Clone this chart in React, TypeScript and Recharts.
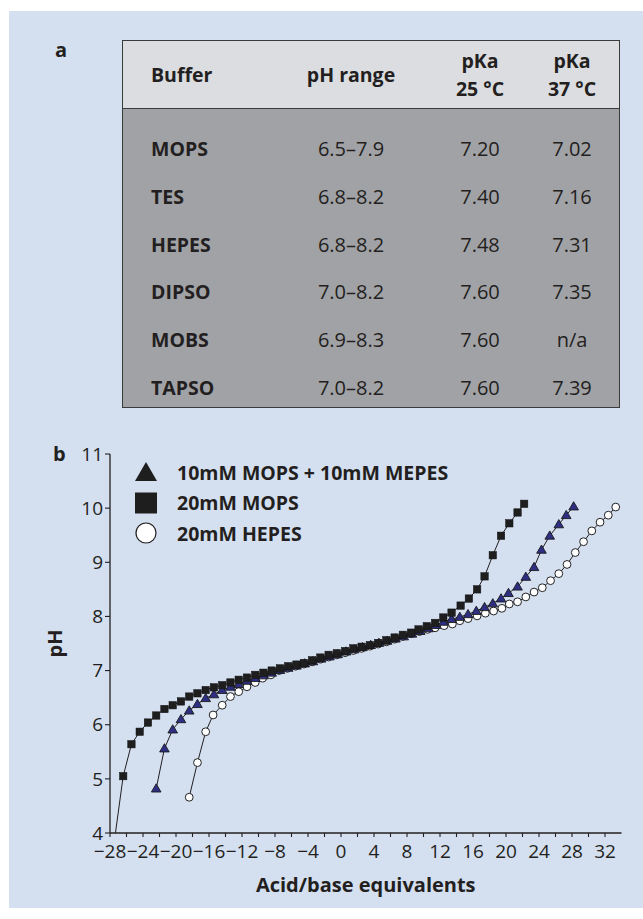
import React from 'react';
import { ScatterChart, Scatter, XAxis, YAxis, Legend } from 'recharts';

// ---------- table data ----------
const buffers = ['MOPS', 'TES', 'HEPES', 'DIPSO', 'MOBS', 'TAPSO'];
const phRanges = ['6.5–7.9', '6.8–8.2', '6.8–8.2', '7.0–8.2', '6.9–8.3', '7.0–8.2'];
const pka25 = ['7.20', '7.40', '7.48', '7.60', '7.60', '7.60'];
const pka37 = ['7.02', '7.16', '7.31', '7.35', 'n/a', '7.39'];
const headers = ['Buffer', 'pH range', 'pKa\n25 °C', 'pKa\n37 °C'];

// ---------- chart data ----------
const seriesNames = ['10mM MOPS + 10mM MEPES', '20mM MOPS', '20mM HEPES'];
const xTicks = [-28, -26, -24, -22, -20, -18, -16, -14, -12, -10, -8, -6, -4, -2, 0, 2, 4, 6, 8, 10, 12, 14, 16, 18, 20, 22, 24, 26, 28, 30, 32];
const yTicks = [4, 5, 6, 7, 8, 9, 10, 11];

const mixX = [-22.4, -21.4, -20.4, -19.4, -18.4, -17.4, -16.4, -15.4, -14.4, -13.4, -12.4, -11.4, -10.4, -9.4, -8.4, -7.4, -6.4, -5.4, -4.4, -3.4, -2.4, -1.4, -0.4, 0.6, 1.6, 2.6, 3.6, 4.6, 5.6, 6.6, 7.6, 8.6, 9.6, 10.6, 11.5, 12.4, 13.4, 14.4, 15.4, 16.4, 17.4, 18.4, 19.4, 20.3, 21.4, 22.4, 23.4, 24.3, 25.3, 26.4, 27.3, 28.2];
const mixY = [4.82, 5.56, 5.91, 6.10, 6.26, 6.38, 6.49, 6.56, 6.64, 6.70, 6.75, 6.81, 6.86, 6.91, 6.96, 7.01, 7.05, 7.09, 7.13, 7.17, 7.22, 7.26, 7.30, 7.35, 7.39, 7.43, 7.47, 7.51, 7.55, 7.59, 7.63, 7.68, 7.73, 7.78, 7.84, 7.90, 7.95, 7.99, 8.04, 8.10, 8.17, 8.24, 8.33, 8.43, 8.55, 8.73, 8.91, 9.23, 9.49, 9.70, 9.87, 10.03];

const mopsX = [-27.7, -26.4, -25.4, -24.4, -23.4, -22.4, -21.4, -20.4, -19.4, -18.4, -17.4, -16.4, -15.4, -14.4, -13.4, -12.4, -11.4, -10.4, -9.4, -8.4, -7.4, -6.4, -5.4, -4.5, -3.5, -2.5, -1.5, -0.5, 0.5, 1.5, 2.5, 3.5, 4.5, 5.5, 6.5, 7.5, 8.5, 9.4, 10.4, 11.4, 12.4, 13.4, 14.5, 15.5, 16.5, 17.4, 18.4, 19.4, 20.4, 21.4, 22.2];
const mopsY = [3.6, 5.05, 5.64, 5.87, 6.04, 6.17, 6.29, 6.36, 6.43, 6.52, 6.58, 6.64, 6.69, 6.73, 6.78, 6.83, 6.87, 6.92, 6.96, 7.00, 7.04, 7.08, 7.11, 7.14, 7.19, 7.24, 7.29, 7.32, 7.36, 7.41, 7.44, 7.47, 7.51, 7.56, 7.61, 7.66, 7.70, 7.76, 7.82, 7.88, 7.98, 8.07, 8.20, 8.33, 8.50, 8.74, 9.13, 9.49, 9.72, 9.92, 10.08];

const hepesX = [-18.4, -17.4, -16.4, -15.5, -14.4, -13.4, -12.4, -11.4, -10.4, -9.5, -8.5, -7.5, -6.5, -5.5, -4.5, -3.5, -2.5, -1.5, -0.5, 0.5, 1.5, 2.5, 3.5, 4.5, 5.5, 6.5, 7.5, 8.5, 9.5, 10.5, 11.4, 12.5, 13.5, 14.4, 15.4, 16.5, 17.5, 18.5, 19.5, 20.4, 21.4, 22.4, 23.4, 24.4, 25.4, 26.4, 27.4, 28.4, 29.4, 30.4, 31.4, 32.4, 33.3];
const hepesY = [4.66, 5.30, 5.87, 6.18, 6.36, 6.52, 6.61, 6.70, 6.78, 6.86, 6.92, 7.00, 7.04, 7.08, 7.12, 7.16, 7.21, 7.25, 7.29, 7.33, 7.37, 7.41, 7.45, 7.49, 7.53, 7.58, 7.63, 7.68, 7.72, 7.76, 7.79, 7.83, 7.86, 7.92, 7.96, 8.01, 8.06, 8.10, 8.15, 8.23, 8.27, 8.36, 8.45, 8.53, 8.66, 8.79, 8.96, 9.18, 9.38, 9.58, 9.74, 9.87, 10.02];

const toPts = (xs: number[], ys: number[]) => xs.map((x, i) => ({ x, y: ys[i] }));
const mixData = toPts(mixX, mixY);
const mopsData = toPts(mopsX, mopsY);
const hepesData = toPts(hepesX, hepesY);

const INK = '#231f20';
const FONT = '"Open Sans", "Noto Sans", sans-serif';
const NAVY = '#2e2f82';

const SquareShape = (p: any) => (
  <rect x={p.cx - 3.7} y={p.cy - 3.7} width={7.4} height={7.4} fill="#1e1e1e" stroke="#111" strokeWidth={0.5} />
);
const TriangleShape = (p: any) => (
  <polygon
    points={`${p.cx},${p.cy - 4.8} ${p.cx + 4.8},${p.cy + 3.4} ${p.cx - 4.8},${p.cy + 3.4}`}
    fill={NAVY}
    stroke="#1a1a1a"
    strokeWidth={0.9}
  />
);
const CircleShape = (p: any) => (
  <circle cx={p.cx} cy={p.cy} r={3.9} fill="#ffffff" stroke="#222" strokeWidth={1} />
);

const LegendBox = () => {
  const markers = [
    <polygon key="t" points="12,2 23,21 1,21" fill="#1e1e1e" />,
    <rect key="s" x={1} y={1.5} width={22} height={21} fill="#1e1e1e" />,
    <circle key="c" cx={12} cy={12} r={10} fill="#ffffff" stroke={INK} strokeWidth={1.2} />,
  ];
  return (
    <div style={{ fontFamily: FONT }}>
      {seriesNames.map((n, i) => (
        <div key={n} style={{ display: 'flex', alignItems: 'center', height: 30.5 }}>
          <svg width={24} height={24} style={{ marginRight: 19 }}>
            {markers[i]}
          </svg>
          <span style={{ fontSize: 19.5, fontWeight: 700, color: INK, whiteSpace: 'nowrap' }}>{n}</span>
        </div>
      ))}
    </div>
  );
};

const rowCenter = (i: number) => 149 + i * 47.8;
const colSpec = [
  { left: 151, width: 120, align: 'left' as const },
  { left: 351 - 60, width: 120, align: 'center' as const },
  { left: 480 - 45, width: 90, align: 'center' as const },
  { left: 572 - 45, width: 90, align: 'center' as const },
];

export default function App() {
  const columns = [buffers, phRanges, pka25, pka37];
  return (
    <div style={{ position: 'absolute', left: 0, top: 0, width: 643, height: 919, background: '#fff', fontFamily: FONT, color: INK }}>
      <div style={{ position: 'absolute', left: 9, top: 11, width: 634, height: 897, background: '#d4dff0' }} />

      {/* panel letters */}
      <div style={{ position: 'absolute', left: 55, top: 40, fontSize: 20, fontWeight: 700, lineHeight: '20px' }}>a</div>
      <div style={{ position: 'absolute', left: 53, top: 444, fontSize: 20, fontWeight: 700, lineHeight: '20px' }}>b</div>

      {/* table */}
      <div style={{ position: 'absolute', left: 122, top: 40, width: 498, height: 368, boxSizing: 'border-box', border: '1.5px solid #3a3a3a', background: '#a1a2a6' }}>
        <div style={{ position: 'absolute', left: 0, top: 0, right: 0, height: 67, background: '#dcdde0', borderBottom: '1.5px solid #3a3a3a' }} />
      </div>
      {headers.map((h, c) => (
        <div
          key={'h' + c}
          style={{
            position: 'absolute',
            left: colSpec[c].left,
            width: colSpec[c].width,
            textAlign: colSpec[c].align,
            top: h.includes('\n') ? 47 : 61,
            height: h.includes('\n') ? 56 : 28,
            lineHeight: '28px',
            fontSize: 19.5,
            fontWeight: 700,
            whiteSpace: 'pre',
          }}
        >
          {h}
        </div>
      ))}
      {buffers.map((_, r) =>
        columns.map((col, c) => (
          <div
            key={r + '-' + c}
            style={{
              position: 'absolute',
              left: colSpec[c].left,
              width: colSpec[c].width,
              textAlign: colSpec[c].align,
              top: rowCenter(r) - 14,
              height: 28,
              lineHeight: '28px',
              fontSize: c === 0 ? 19.5 : 20,
              fontWeight: c === 0 ? 700 : 400,
            }}
          >
            {col[r]}
          </div>
        ))
      )}

      {/* chart */}
      <div style={{ position: 'absolute', left: 0, top: 440 }}>
        <ScatterChart width={643} height={480} margin={{ top: 14, right: 21.5, left: 70, bottom: 37 }}>
          <XAxis
            type="number"
            dataKey="x"
            domain={[-28, 34]}
            ticks={xTicks}
            interval={0}
            allowDataOverflow
            height={50}
            tickSize={4}
            tickMargin={8}
            axisLine={{ stroke: INK, strokeWidth: 1.3 }}
            tickLine={{ stroke: INK, strokeWidth: 1.1 }}
            tick={{ fill: INK, fontSize: 19, fontFamily: FONT }}
            tickFormatter={(v: number) => (v % 4 === 0 ? String(v).replace('-', '\u2212') : '')}
            label={(props: any) => {
              const vb = props.viewBox;
              return (
                <text x={vb.x + vb.width / 2} y={vb.y + 51} textAnchor="middle" dominantBaseline="central" fill={INK} fontSize={20} fontWeight={700} fontFamily={FONT}>
                  Acid/base equivalents
                </text>
              );
            }}
          />
          <YAxis
            type="number"
            dataKey="y"
            domain={[4, 11]}
            ticks={yTicks}
            interval={0}
            allowDataOverflow
            width={40}
            tickSize={5}
            tickMargin={2}
            axisLine={{ stroke: INK, strokeWidth: 1.3 }}
            tickLine={{ stroke: INK, strokeWidth: 1.1 }}
            tick={{ fill: INK, fontSize: 19, fontFamily: FONT }}
            label={(props: any) => {
              const vb = props.viewBox;
              const x = vb.x - 16;
              const y = vb.y + vb.height / 2;
              return (
                <text x={x} y={y} transform={`rotate(-90 ${x} ${y})`} textAnchor="middle" dominantBaseline="central" fill={INK} fontSize={20} fontWeight={700} fontFamily={FONT}>
                  pH
                </text>
              );
            }}
          />
          <Legend
            layout="vertical"
            align="center"
            verticalAlign="middle"
            wrapperStyle={{ left: 134, top: 17, width: 360 }}
            content={() => <LegendBox />}
          />
          <Scatter name={seriesNames[2]} data={hepesData} line={{ stroke: INK, strokeWidth: 1 }} lineType="joint" shape={CircleShape} isAnimationActive={false} />
          <Scatter name={seriesNames[0]} data={mixData} line={{ stroke: INK, strokeWidth: 1 }} lineType="joint" shape={TriangleShape} isAnimationActive={false} />
          <Scatter name={seriesNames[1]} data={mopsData} line={{ stroke: INK, strokeWidth: 1 }} lineType="joint" shape={SquareShape} isAnimationActive={false} />
        </ScatterChart>
      </div>
    </div>
  );
}
